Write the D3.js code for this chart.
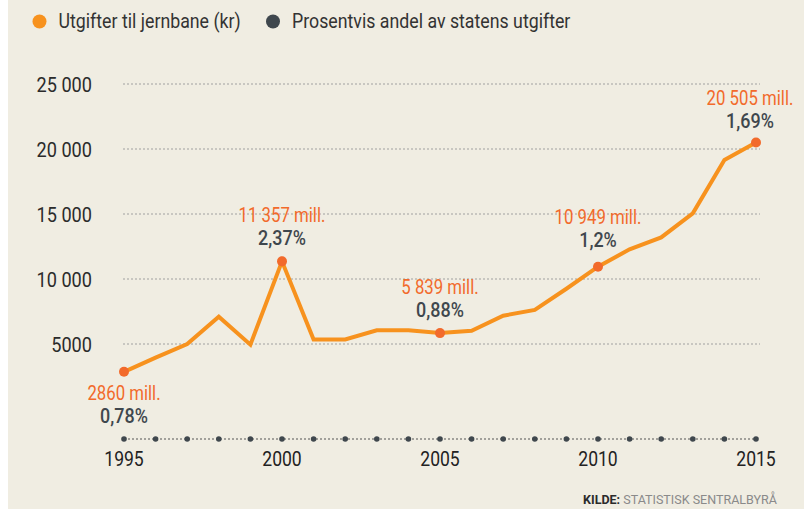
<!DOCTYPE html>
<html>
<head>
<meta charset="utf-8">
<script src="https://d3js.org/d3.v7.min.js"></script>
<style>
  body { margin: 0; background: #fff; }
  text { font-family: Roboto, "Liberation Sans", sans-serif; }
</style>
</head>
<body>
<svg id="chart" width="804" height="509"></svg>
<script>
// data (SSB): railway spending, million NOK
const years = d3.range(1995, 2016);
const spending = [2860, 3950, 5000, 7100, 4950, 11357, 5350, 5350, 6050, 6050, 5839,
                  6020, 7180, 7620, 9250, 10949, 12280, 13200, 15050, 19150, 20505];
const highlightYears = [1995, 2000, 2005, 2010, 2015];
const highlightMill = ["2860 mill.", "11 357 mill.", "5 839 mill.", "10 949 mill.", "20 505 mill."];
const highlightPct = ["0,78%", "2,37%", "0,88%", "1,2%", "1,69%"];
const yTicks = [5000, 10000, 15000, 20000, 25000];
const yTickLabels = ["5000", "10 000", "15 000", "20 000", "25 000"];
const xTicks = [1995, 2000, 2005, 2010, 2015];

// where the labels sit relative to the point (layout only)
const pctDy = [51, -16, -16, -20, -14];
const labelDx = [0, 0, 0, 0, -6];

const orange = "#f7921e";
const red = "#f26a2b";
const grey = "#3f474d";

const svg = d3.select("#chart");

// shrink text horizontally a bit, the original font is a condensed one
function condense(sel, k) {
  sel.each(function () {
    const w = this.getComputedTextLength();
    d3.select(this).attr("textLength", w * k).attr("lengthAdjust", "spacingAndGlyphs");
  });
}

svg.append("rect")
   .attr("x", 8).attr("y", 0)
   .attr("width", 796).attr("height", 509)
   .attr("fill", "#f0ede2");

const x = d3.scaleLinear().domain([1995, 2015]).range([124, 756]);
const y = d3.scaleLinear().domain([0, 25000]).range([409, 84]);

// legend
const legend = [
  {label: "Utgifter til jernbane (kr)", color: orange, x: 39.5},
  {label: "Prosentvis andel av statens utgifter", color: grey, x: 273}
];
const lg = svg.append("g").selectAll("g").data(legend).join("g");
lg.append("circle")
  .attr("cx", d => d.x).attr("cy", 21.5).attr("r", 7)
  .attr("fill", d => d.color);
lg.append("text")
  .attr("x", d => d.x + 19).attr("y", 27.5)
  .attr("fill", "#333")
  .style("font-size", "19.5px")
  .text(d => d.label)
  .call(condense, 0.91);

// grid + y labels
svg.append("g").selectAll("line")
   .data(yTicks).join("line")
   .attr("x1", 123).attr("x2", 760)
   .attr("y1", d => y(d)).attr("y2", d => y(d))
   .attr("stroke", "#a0a0a0")
   .attr("stroke-width", 1)
   .attr("stroke-dasharray", "2,2");

svg.append("g").selectAll("text")
   .data(yTicks).join("text")
   .attr("x", 92).attr("y", d => y(d) + 7.5)
   .attr("text-anchor", "end")
   .attr("fill", "#2b2b2b")
   .style("font-size", "19.5px")
   .text((d, i) => yTickLabels[i])
   .call(condense, 0.93);

// bottom year axis
const axisY = 439;
svg.append("line")
   .attr("x1", x(1995)).attr("x2", x(2015))
   .attr("y1", axisY).attr("y2", axisY)
   .attr("stroke", "#555")
   .attr("stroke-dasharray", "2,2");

svg.append("g").selectAll("circle")
   .data(years).join("circle")
   .attr("cx", d => x(d)).attr("cy", axisY).attr("r", 2.8)
   .attr("fill", grey);

svg.append("g").selectAll("text")
   .data(xTicks).join("text")
   .attr("x", d => x(d)).attr("y", 466)
   .attr("text-anchor", "middle")
   .attr("fill", "#222")
   .style("font-size", "19.5px")
   .text(d => d)
   .call(condense, 0.9);

// spending line
const line = d3.line()
  .x((d, i) => x(years[i]))
  .y(d => y(d));

svg.append("path")
   .datum(spending)
   .attr("d", line)
   .attr("fill", "none")
   .attr("stroke", orange)
   .attr("stroke-width", 4)
   .attr("stroke-linejoin", "miter");

const hl = highlightYears.map((yr, i) => ({
  year: yr,
  value: spending[years.indexOf(yr)],
  mill: highlightMill[i],
  pct: highlightPct[i],
  dy: pctDy[i],
  dx: labelDx[i]
}));

svg.append("g").selectAll("circle")
   .data(hl).join("circle")
   .attr("cx", d => x(d.year)).attr("cy", d => y(d.value)).attr("r", 5)
   .attr("fill", red);

const ann = svg.append("g").selectAll("g").data(hl).join("g");
ann.append("text")
   .attr("x", d => x(d.year) + d.dx)
   .attr("y", d => y(d.value) + d.dy - 23)
   .attr("text-anchor", "middle")
   .attr("fill", red)
   .style("font-size", "19.5px")
   .text(d => d.mill)
   .call(condense, 0.86);
ann.append("text")
   .attr("x", d => x(d.year) + d.dx)
   .attr("y", d => y(d.value) + d.dy)
   .attr("text-anchor", "middle")
   .attr("fill", grey)
   .style("font-size", "19.5px")
   .style("font-weight", 500)
   .text(d => d.pct)
   .call(condense, 0.92);

// source
const src = svg.append("text")
   .attr("x", 583).attr("y", 504)
   .style("font-size", "12px")
   .attr("textLength", 194)
   .attr("lengthAdjust", "spacingAndGlyphs");
src.append("tspan").attr("font-weight", "bold").attr("fill", "#2b2b2b").text("KILDE:");
src.append("tspan").attr("fill", "#8a8a8a").text(" STATISTISK SENTRALBYRÅ");
</script>
</body>
</html>
